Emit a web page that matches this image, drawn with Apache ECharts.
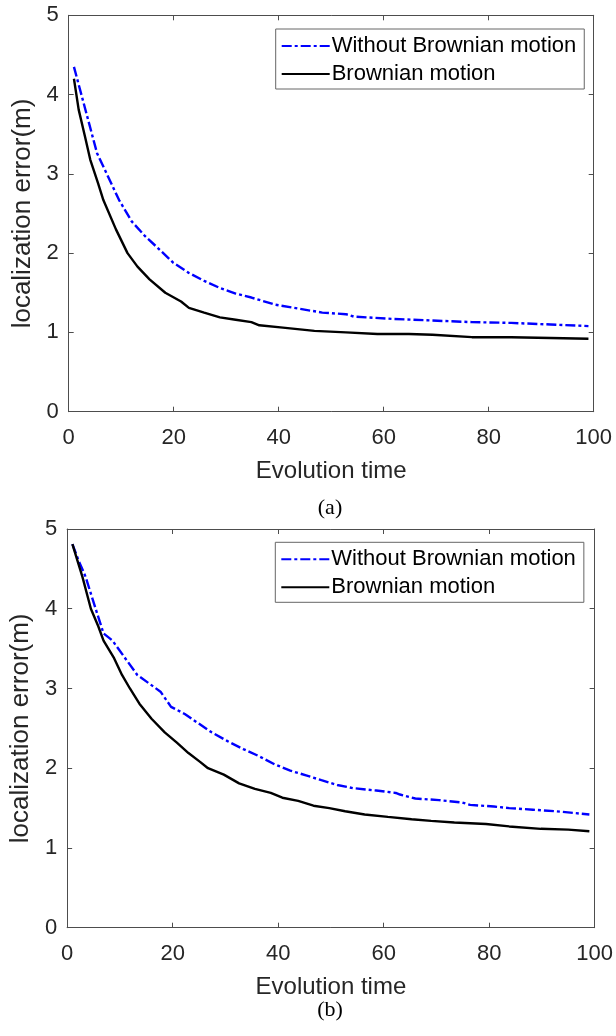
<!DOCTYPE html>
<html>
<head>
<meta charset="utf-8">
<script src="https://cdn.jsdelivr.net/npm/echarts@6/dist/echarts.min.js"></script>
<style>
html,body{margin:0;padding:0;background:#fff;}
#chart{width:616px;height:1036px;}
</style>
</head>
<body>
<div id="chart"></div>
<script>
// ---- Data ----
const seriesNames = ['Without Brownian motion', 'Brownian motion'];
const xTicks = [0, 20, 40, 60, 80, 100];
const yTicks = [0, 1, 2, 3, 4, 5];

// Panel (a)
const tA_without = [1, 5.4, 9.6, 12, 14.6, 16.9, 19.9, 22.9, 25.8, 28.8, 31.8, 34.8, 39.3, 43.8, 48.3, 52.8, 54.3, 61.8, 69.3, 76.8, 84.3, 91.8, 99];
const eA_without = [4.35, 3.26, 2.67, 2.40, 2.21, 2.07, 1.88, 1.75, 1.65, 1.56, 1.49, 1.44, 1.35, 1.30, 1.25, 1.23, 1.20, 1.17, 1.15, 1.13, 1.12, 1.10, 1.08];
const tA_brown = [1, 1.9, 3.1, 4.1, 5.6, 6.6, 9, 11.2, 13.1, 15.4, 18.4, 21.4, 22.9, 25.8, 28.8, 31.8, 34.8, 36.3, 40.8, 46.8, 52.8, 58.8, 64.8, 69.3, 76.8, 84.3, 91.8, 99];
const eA_brown = [4.20, 3.81, 3.47, 3.18, 2.88, 2.67, 2.30, 2.00, 1.83, 1.67, 1.50, 1.39, 1.31, 1.25, 1.19, 1.16, 1.13, 1.09, 1.06, 1.02, 1.00, 0.98, 0.98, 0.97, 0.94, 0.94, 0.93, 0.92];

// Panel (b)
const tB_without = [1, 2.2, 3.5, 5.4, 6.9, 8.6, 11, 13.3, 15.6, 17.7, 19.7, 22.3, 24.5, 27.4, 30.4, 33.4, 36.4, 39.3, 42.3, 45.3, 48.2, 51.2, 54.2, 58.6, 62.3, 63.1, 66, 70.5, 74.9, 76.4, 80.9, 83.8, 88.3, 92.7, 99];
const eB_without = [4.81, 4.60, 4.40, 4.00, 3.69, 3.60, 3.38, 3.17, 3.06, 2.96, 2.77, 2.68, 2.58, 2.45, 2.34, 2.24, 2.15, 2.05, 1.97, 1.91, 1.85, 1.79, 1.75, 1.72, 1.69, 1.67, 1.62, 1.60, 1.57, 1.54, 1.52, 1.50, 1.48, 1.46, 1.42];
const tB_brown = [1, 2.2, 2.9, 4.5, 5.9, 6.9, 8.9, 10.4, 11.9, 13.7, 16, 18.5, 20.8, 23, 25.2, 26.7, 29.7, 32.6, 35.6, 38.6, 40.8, 43.8, 46.7, 49.7, 52.7, 56.4, 60.8, 65.3, 69, 73.4, 79.4, 83.8, 89.8, 95, 99];
const eB_brown = [4.81, 4.55, 4.40, 4.00, 3.78, 3.60, 3.38, 3.17, 3.00, 2.81, 2.62, 2.45, 2.32, 2.19, 2.08, 2.00, 1.92, 1.81, 1.74, 1.69, 1.63, 1.59, 1.53, 1.50, 1.46, 1.42, 1.39, 1.36, 1.34, 1.32, 1.30, 1.27, 1.24, 1.23, 1.21];

const captions = ['(a)', '(b)'];
const xTitle = 'Evolution time';
const yTitle = 'localization error(m)';

// ---- Build options ----
const pair = (xs, ys) => xs.map((x, i) => [x, ys[i]]);
const FONT = 'Liberation Sans, Arial, sans-serif';
const AXC = '#4d4d4d';
const TXT = '#262626';

const grids = [
  {left: 68.7, right: 22.3, top: 15.3, height: 396.4},
  {left: 66.3, right: 19.7, top: 529, height: 398.7}
];

function xAxes(gi) {
  const common = {
    gridIndex: gi, type: 'value', min: xTicks[0], max: xTicks[xTicks.length - 1], interval: 20,
    axisLine: {show: true, onZero: false, lineStyle: {color: AXC, width: 1}},
    axisTick: {show: true, inside: true, length: 5, lineStyle: {color: AXC}},
    splitLine: {show: false}
  };
  return [
    Object.assign({}, common, {
      position: 'bottom',
      axisLabel: {show: true, fontSize: 22, fontFamily: FONT, color: TXT, margin: 15},
      name: xTitle, nameLocation: 'middle', nameGap: 48,
      nameTextStyle: {fontSize: 24, fontFamily: FONT, color: TXT}
    }),
    Object.assign({}, common, {position: 'top', axisLabel: {show: false}})
  ];
}
function yAxes(gi) {
  const common = {
    gridIndex: gi, type: 'value', min: yTicks[0], max: yTicks[yTicks.length - 1], interval: 1,
    axisLine: {show: true, onZero: false, lineStyle: {color: AXC, width: 1}},
    axisTick: {show: true, inside: true, length: 5, lineStyle: {color: AXC}},
    splitLine: {show: false}
  };
  return [
    Object.assign({}, common, {
      position: 'left',
      axisLabel: {show: true, fontSize: 22, fontFamily: FONT, color: TXT, margin: 10},
      name: yTitle, nameLocation: 'middle', nameGap: 25,
      nameTextStyle: {fontSize: 26, fontFamily: FONT, color: TXT}
    }),
    Object.assign({}, common, {position: 'right', axisLabel: {show: false}})
  ];
}

const blueStyle = {color: '#0000ff', width: 2.4, type: [10, 3, 3, 3]};
const blackStyle = {color: '#000000', width: 2.4, type: 'solid'};

function mkSeries(name, data, ai, style) {
  return {
    name: name, type: 'line', xAxisIndex: ai, yAxisIndex: ai,
    data: data, showSymbol: false, symbol: 'none', smooth: false,
    lineStyle: style, itemStyle: {color: style.color},
    animation: false
  };
}

function mkLegend(left, top) {
  return {
    orient: 'vertical', left: left, top: top,
    data: seriesNames.slice(),
    itemWidth: 48, itemHeight: 14, itemGap: 6,
    padding: [6, 8, 4, 5],
    borderColor: '#666', borderWidth: 1, borderRadius: 0,
    backgroundColor: '#fff',
    selectedMode: false,
    itemStyle: {color: 'rgba(0,0,0,0)', borderColor: 'rgba(0,0,0,0)', borderWidth: 0, opacity: 0},
    textStyle: {fontSize: 22, fontFamily: FONT, color: '#000', lineHeight: 22, padding: [0, 0, 0, -3]}
  };
}

const option = {
  animation: false,
  backgroundColor: '#fff',
  grid: grids,
  xAxis: [...xAxes(0), ...xAxes(1)],
  yAxis: [...yAxes(0), ...yAxes(1)],
  legend: [mkLegend(275.7, 29), mkLegend(275.3, 542.3)],
  series: [
    mkSeries(seriesNames[0], pair(tA_without, eA_without), 0, blueStyle),
    mkSeries(seriesNames[1], pair(tA_brown, eA_brown), 0, blackStyle),
    mkSeries(seriesNames[0], pair(tB_without, eB_without), 2, blueStyle),
    mkSeries(seriesNames[1], pair(tB_brown, eB_brown), 2, blackStyle)
  ],
  graphic: [
    {type: 'text', x: 330, y: 508, style: {text: captions[0], font: '22px "Liberation Serif", "Times New Roman", serif', fill: '#000', textAlign: 'center', textVerticalAlign: 'middle'}},
    {type: 'text', x: 330, y: 1010, style: {text: captions[1], font: '22px "Liberation Serif", "Times New Roman", serif', fill: '#000', textAlign: 'center', textVerticalAlign: 'middle'}}
  ]
};

const chart = echarts.init(document.getElementById('chart'), null, {renderer: 'canvas'});
chart.setOption(option);
</script>
</body>
</html>
